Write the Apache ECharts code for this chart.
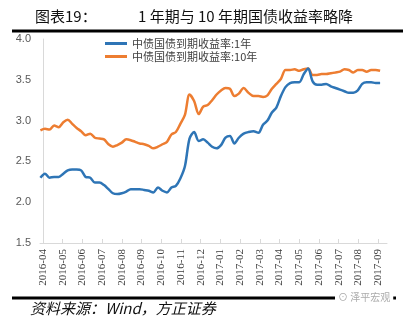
<!DOCTYPE html>
<html>
<head>
<meta charset="utf-8">
<script src="https://cdn.jsdelivr.net/npm/echarts@6/dist/echarts.min.js"></script>
<style>html,body{margin:0;padding:0;background:#fff;}#c{width:411px;height:329px;}</style>
</head>
<body>
<div id="c"></div>
<script>
var dates = [
'2016-03-28','2016-04-04','2016-04-11','2016-04-18','2016-04-25','2016-05-02','2016-05-09','2016-05-16','2016-05-23','2016-05-30',
'2016-06-06','2016-06-13','2016-06-20','2016-06-27','2016-07-04','2016-07-11','2016-07-18','2016-07-25','2016-08-01','2016-08-08',
'2016-08-15','2016-08-22','2016-08-29','2016-09-05','2016-09-12','2016-09-19','2016-09-26','2016-10-03','2016-10-10','2016-10-17',
'2016-10-24','2016-10-31','2016-11-07','2016-11-14','2016-11-21','2016-11-28','2016-12-05','2016-12-12','2016-12-19','2016-12-26',
'2017-01-02','2017-01-09','2017-01-16','2017-01-23','2017-01-30','2017-02-06','2017-02-13','2017-02-20','2017-02-27','2017-03-06',
'2017-03-13','2017-03-20','2017-03-27','2017-04-03','2017-04-10','2017-04-17','2017-04-24','2017-05-01','2017-05-08','2017-05-15',
'2017-05-22','2017-05-29','2017-06-05','2017-06-12','2017-06-19','2017-06-26','2017-07-03','2017-07-10','2017-07-17','2017-07-24',
'2017-07-31','2017-08-07','2017-08-14','2017-08-21','2017-08-28','2017-09-04'];

var yield1Y = [
2.30,2.35,2.30,2.31,2.31,2.35,2.39,2.40,2.40,2.39,
2.31,2.30,2.24,2.24,2.21,2.16,2.11,2.10,2.11,2.13,
2.16,2.16,2.16,2.15,2.14,2.12,2.18,2.14,2.12,2.18,
2.20,2.29,2.44,2.78,2.86,2.75,2.77,2.73,2.68,2.66,
2.70,2.79,2.81,2.72,2.79,2.84,2.86,2.87,2.85,2.95,
3.00,3.10,3.16,3.30,3.41,3.46,3.47,3.47,3.57,3.64,
3.48,3.44,3.44,3.45,3.42,3.40,3.38,3.36,3.34,3.34,
3.37,3.45,3.47,3.47,3.46,3.46];

var yield10Y = [
2.88,2.90,2.89,2.94,2.92,2.98,3.01,2.96,2.91,2.87,
2.82,2.84,2.79,2.78,2.77,2.71,2.68,2.70,2.73,2.77,
2.76,2.74,2.72,2.71,2.69,2.66,2.68,2.71,2.74,2.83,
2.86,2.96,3.07,3.32,3.24,3.08,3.17,3.19,3.25,3.32,
3.37,3.40,3.39,3.30,3.33,3.40,3.34,3.30,3.30,3.29,
3.31,3.39,3.45,3.51,3.62,3.62,3.63,3.61,3.63,3.64,
3.56,3.56,3.57,3.57,3.58,3.59,3.60,3.63,3.62,3.59,
3.62,3.62,3.60,3.62,3.62,3.61];

var monthLabels = ['2016-04','2016-05','2016-06','2016-07','2016-08','2016-09','2016-10','2016-11','2016-12',
'2017-01','2017-02','2017-03','2017-04','2017-05','2017-06','2017-07','2017-08','2017-09'];

var seriesNames = ['中债国债到期收益率:1年','中债国债到期收益率:10年'];

// month position of a date (0 = 2016-04-01)
function monthPos(s) {
  var p = s.split('-'), y = +p[0], m = +p[1], d = +p[2];
  var dim = new Date(y, m, 0).getDate();
  return (y - 2016) * 12 + (m - 4) + (d - 1) / dim;
}
var xs = dates.map(monthPos);
function pairs(vals) { return vals.map(function (v, i) { return [xs[i], v]; }); }
var monthIdx = monthLabels.map(function (_, i) { return i; });

var chart = echarts.init(document.getElementById('c'), null, {renderer: 'canvas'});
chart.setOption({
  animation: false,
  backgroundColor: '#fff',
  grid: {left: 40, right: 24, top: 39, bottom: 86},
  legend: {
    left: 100, top: 33, orient: 'vertical', itemWidth: 22, itemHeight: 3, itemGap: 2,
    icon: 'rect',
    data: seriesNames,
    textStyle: {fontSize: 11, color: '#404040', fontFamily: 'Noto Sans CJK SC'}
  },
  xAxis: {
    type: 'value', min: -0.15, max: 17.45,
    axisLine: {show: true, lineStyle: {color: '#d9d9d9', width: 1}},
    axisTick: {show: true, length: 4, inside: true, customValues: monthIdx, lineStyle: {color: '#d9d9d9'}},
    splitLine: {show: false},
    axisLabel: {
      customValues: monthIdx, rotate: 90, margin: 6, fontSize: 11, color: '#404040',
      fontFamily: 'Liberation Serif',
      formatter: function (v) { var i = Math.round(v); return monthLabels[i] || ''; }
    }
  },
  yAxis: {
    type: 'value', min: 1.5, max: 4.0, interval: 0.5,
    axisLine: {show: true, lineStyle: {color: '#d9d9d9', width: 1}},
    axisTick: {show: false},
    splitLine: {show: false},
    axisLabel: {
      margin: 9, fontSize: 11, color: '#595959', fontFamily: 'Liberation Sans',
      formatter: function (v) { return v.toFixed(1); }
    }
  },
  series: [
    {name: seriesNames[1], type: 'line', data: pairs(yield10Y), showSymbol: false, smooth: 0.3,
     lineStyle: {color: '#ED7D31', width: 2.5}, itemStyle: {color: '#ED7D31'}},
    {name: seriesNames[0], type: 'line', data: pairs(yield1Y), showSymbol: false, smooth: 0.3,
     lineStyle: {color: '#2E75B6', width: 2.5}, itemStyle: {color: '#2E75B6'}}
  ],
  graphic: [
    {type: 'text', left: 35, top: 9, style: {text: '图表19：', fontSize: 15, fill: '#111', fontFamily: 'Noto Sans CJK SC'}},
    {type: 'text', left: 138, top: 9, style: {text: '1 年期与 10 年期国债收益率略降', fontSize: 15, fill: '#111', fontFamily: 'Noto Sans CJK SC'}},
    {type: 'line', shape: {x1: 12, y1: 31, x2: 403, y2: 31}, style: {stroke: '#000', lineWidth: 3}},
    {type: 'line', shape: {x1: 12, y1: 298, x2: 396, y2: 298}, style: {stroke: '#000', lineWidth: 3}},
    {type: 'text', left: 335, top: 291, style: {text: '⊙ 泽平宏观', fontSize: 10, fill: '#aaa', backgroundColor: '#fff', fontFamily: 'Noto Sans CJK SC', padding: [1, 3]}},
    {type: 'text', left: 30, top: 301, style: {text: '资料来源：Wind，方正证券', fontSize: 15, fill: '#111', fontStyle: 'italic', fontFamily: 'Noto Sans CJK SC'}}
  ]
});
</script>
</body>
</html>
